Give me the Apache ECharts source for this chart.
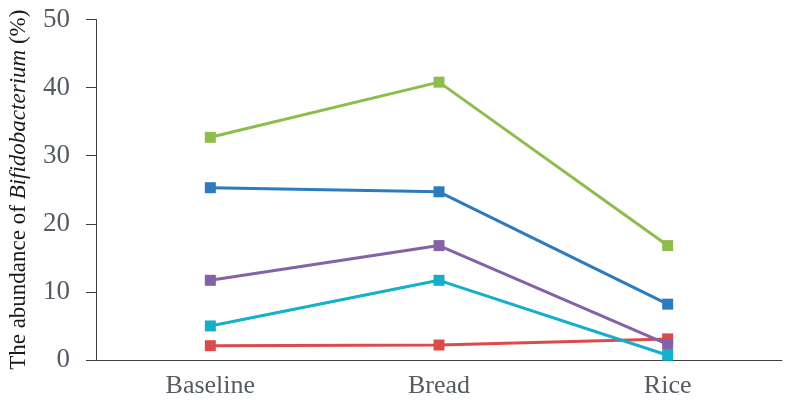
<!DOCTYPE html>
<html>
<head>
<meta charset="utf-8">
<script src="https://cdn.jsdelivr.net/npm/echarts@6/dist/echarts.min.js"></script>
<style>
  html, body { margin: 0; padding: 0; background: #fff; }
  #chart { width: 787px; height: 404px; }
</style>
</head>
<body>
<div id="chart"></div>
<script>
// categories and series
const categories = ['Baseline', 'Bread', 'Rice'];
const yTicks = [0, 10, 20, 30, 40, 50];

const greenVals = [32.7, 40.8, 16.8];
const blueVals = [25.3, 24.7, 8.2];
const purpleVals = [11.7, 16.8, 2.3];
const cyanVals = [5.0, 11.7, 0.7];
const redVals = [2.1, 2.2, 3.1];

const seriesDefs = [
  { name: 'S1', data: greenVals, color: '#8DBD4C' },
  { name: 'S2', data: blueVals, color: '#2B7BC0' },
  { name: 'S3', data: redVals, color: '#DC4B4B' },
  { name: 'S4', data: purpleVals, color: '#8462A8' },
  { name: 'S5', data: cyanVals, color: '#14AFC8' }
];

const serif = '"Liberation Serif", "Times New Roman", serif';

const myChart = echarts.init(document.getElementById('chart'));

const option = {
  backgroundColor: '#ffffff',
  animation: false,
  grid: { left: 96, right: 5, top: 19.5, bottom: 44, outerBoundsMode: 'none' },
  xAxis: {
    type: 'category',
    data: categories,
    boundaryGap: true,
    axisLine: { lineStyle: { color: '#404040', width: 1 } },
    axisTick: { show: false },
    axisLabel: { color: '#555a63', fontFamily: serif, fontSize: 26, margin: 13 }
  },
  yAxis: {
    type: 'value',
    min: yTicks[0],
    max: yTicks[yTicks.length - 1],
    interval: 10,
    name: 'The abundance of {i|Bifidobacterium} (%)',
    nameLocation: 'middle',
    nameGap: 66,
    nameTextStyle: {
      color: '#1a1a1a',
      fontFamily: serif,
      fontSize: 23,
      rich: {
        i: { fontFamily: serif, fontSize: 23, fontStyle: 'italic', color: '#1a1a1a' }
      }
    },
    axisLine: { show: true, lineStyle: { color: '#404040', width: 1 } },
    axisTick: { show: true, length: 10, lineStyle: { color: '#404040' } },
    axisLabel: { color: '#555a63', fontFamily: serif, fontSize: 27, margin: 26 },
    splitLine: { show: false }
  },
  series: seriesDefs.map(s => ({
    name: s.name,
    type: 'line',
    data: s.data,
    symbol: 'rect',
    symbolSize: 11,
    lineStyle: { color: s.color, width: 3 },
    itemStyle: { color: s.color }
  }))
};

myChart.setOption(option);
</script>
</body>
</html>
